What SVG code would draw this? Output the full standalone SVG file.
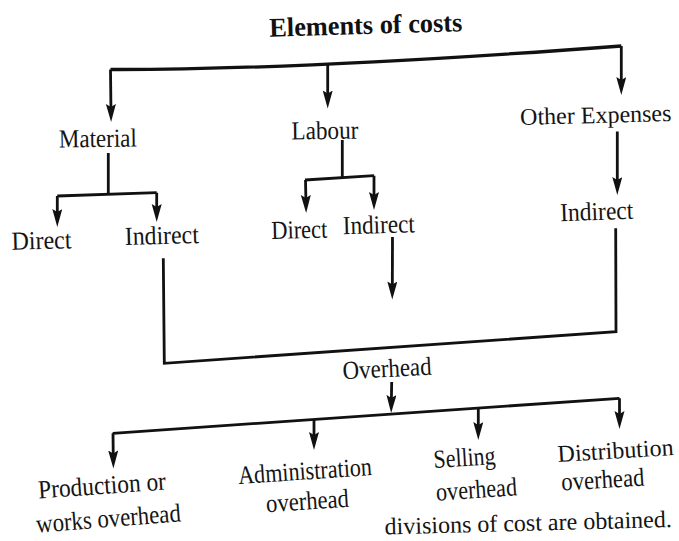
<svg xmlns="http://www.w3.org/2000/svg" width="679" height="541" viewBox="0 0 679 541">
<defs>
<marker id="ah" markerUnits="userSpaceOnUse" markerWidth="20" markerHeight="12" refX="10" refY="5" orient="auto">
<path d="M0,0 L18,5 L0,10 L3,5 z" fill="#111"/>
</marker>
<style>
.t{font-family:"Liberation Serif","Times New Roman",serif;font-size:26px;fill:#141414;text-anchor:middle}
.s{font-size:24px}
.h{font-family:"Liberation Serif","Times New Roman",serif;font-size:27px;font-weight:bold;fill:#111;text-anchor:middle}
.c{fill:none;stroke:#111;stroke-width:2.8;stroke-linejoin:miter}
.a{fill:none;stroke:#111;stroke-width:2.8;marker-end:url(#ah)}
.top{stroke-width:3.3}
</style>
</defs>
<rect width="679" height="541" fill="#fff"/>
<g id="connectors">
<path class="c top" d="M110.5,69.5 Q300,70 621.3,46"/>
<line class="a" x1="110.5" y1="69.5" x2="111" y2="114"/>
<line class="a" x1="327.7" y1="64.5" x2="327.7" y2="100.5"/>
<line class="a" x1="621.3" y1="46" x2="621.3" y2="87"/>
<line class="c" x1="108.3" y1="153" x2="108.3" y2="195"/>
<line class="c" x1="57.3" y1="196" x2="156.7" y2="192.7"/>
<line class="a" x1="57.3" y1="196" x2="57.3" y2="219"/>
<line class="a" x1="156.7" y1="192.7" x2="156.7" y2="214"/>
<line class="c" x1="342.3" y1="140" x2="342.3" y2="178"/>
<line class="c" x1="305" y1="180" x2="374" y2="175.7"/>
<line class="a" x1="305.5" y1="180" x2="306" y2="205"/>
<line class="a" x1="374" y1="175.7" x2="374" y2="202"/>
<line class="a" x1="392.5" y1="237" x2="392.3" y2="291.5"/>
<line class="a" x1="617.3" y1="131.5" x2="617.3" y2="187"/>
<polyline class="c" points="615.7,228.3 616,331.7 164.3,363.3 163.3,258.3"/>
<line class="a" x1="391.7" y1="382" x2="391.3" y2="405"/>
<line class="c" x1="112.7" y1="433.3" x2="619.5" y2="398.3"/>
<line class="a" x1="113" y1="433.3" x2="113.3" y2="460.5"/>
<line class="a" x1="314" y1="419.4" x2="314" y2="442"/>
<line class="a" x1="478.3" y1="408" x2="478.3" y2="432"/>
<line class="a" x1="619.5" y1="398.3" x2="619.5" y2="421"/>
</g>
<g id="title"><text class="h" x="366" y="34" textLength="193" lengthAdjust="spacingAndGlyphs" transform="rotate(-1.6 366 34)">Elements of costs</text></g>
<g id="material"><text class="t" x="98" y="147" textLength="78" lengthAdjust="spacingAndGlyphs" transform="rotate(-0.8 98 147)">Material</text></g>
<g id="labour"><text class="t" x="325" y="139" textLength="67" lengthAdjust="spacingAndGlyphs" transform="rotate(-0.8 325 139)">Labour</text></g>
<g id="other-expenses"><text class="t s" x="596" y="123" transform="rotate(-1.5 596 123)">Other Expenses</text></g>
<g id="material-direct"><text class="t" x="41.7" y="249" textLength="60" lengthAdjust="spacingAndGlyphs" transform="rotate(-1.5 41.7 249)">Direct</text></g>
<g id="material-indirect"><text class="t" x="162" y="244" textLength="74" lengthAdjust="spacingAndGlyphs" transform="rotate(-1.5 162 244)">Indirect</text></g>
<g id="labour-direct"><text class="t" x="299.5" y="238.3" textLength="56" lengthAdjust="spacingAndGlyphs" transform="rotate(-1.5 299.5 238.3)">Direct</text></g>
<g id="labour-indirect"><text class="t" x="379" y="233.3" textLength="72" lengthAdjust="spacingAndGlyphs" transform="rotate(-1.5 379 233.3)">Indirect</text></g>
<g id="other-indirect"><text class="t" x="597" y="220" textLength="73" lengthAdjust="spacingAndGlyphs" transform="rotate(-2 597 220)">Indirect</text></g>
<g id="overhead"><text class="t" x="387.5" y="377" textLength="89" lengthAdjust="spacingAndGlyphs" transform="rotate(-3 387.5 377)">Overhead</text></g>
<g id="production-overhead">
<text class="t" x="102.5" y="494" textLength="128" lengthAdjust="spacingAndGlyphs" transform="rotate(-4 102.5 494)">Production or</text>
<text class="t" x="109" y="527" textLength="145" lengthAdjust="spacingAndGlyphs" transform="rotate(-4.5 109 527)">works overhead</text>
</g>
<g id="administration-overhead">
<text class="t" x="305.5" y="479.5" textLength="134" lengthAdjust="spacingAndGlyphs" transform="rotate(-3.8 305.5 479.5)">Administration</text>
<text class="t" x="308" y="509.5" textLength="83" lengthAdjust="spacingAndGlyphs" transform="rotate(-3.8 308 509.5)">overhead</text>
</g>
<g id="selling-overhead">
<text class="t" x="465" y="466" textLength="62" lengthAdjust="spacingAndGlyphs" transform="rotate(-3.5 465 466)">Selling</text>
<text class="t" x="477" y="498" textLength="81" lengthAdjust="spacingAndGlyphs" transform="rotate(-3.8 477 498)">overhead</text>
</g>
<g id="distribution-overhead">
<text class="t s" x="616" y="458.5" transform="rotate(-3.5 616 458.5)">Distribution</text>
<text class="t" x="603.3" y="488" textLength="83" lengthAdjust="spacingAndGlyphs" transform="rotate(-3.5 603.3 488)">overhead</text>
</g>
<g id="page-text"><text class="t s" x="672" y="527" style="text-anchor:end" transform="rotate(-1.5 672 527)">divisions of cost are obtained.</text></g>
</svg>
